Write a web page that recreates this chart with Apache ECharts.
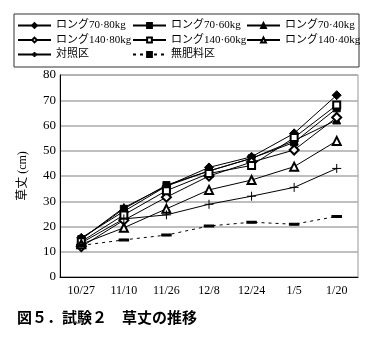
<!DOCTYPE html>
<html lang="ja">
<head>
<meta charset="utf-8">
<title>草丈の推移</title>
<script src="https://cdn.jsdelivr.net/npm/echarts@6/dist/echarts.min.js"></script>
<style>
  html, body { margin: 0; padding: 0; background: #fff; }
  #main { width: 379px; height: 352px; }
</style>
</head>
<body>
<div id="main"></div>
<script>
var categories = ['10/27', '11/10', '11/26', '12/8', '12/24', '1/5', '1/20'];
var yTicks = [0, 10, 20, 30, 40, 50, 60, 70, 80];

var long70_80 = [15.5, 26, 36, 43.4, 47.6, 56.9, 72];
var long70_60 = [15, 27, 36.4, 42, 47, 53.3, 66.8];
var long70_40 = [15, 27.5, 36, 42, 47, 54, 62.2];
var long140_80 = [12, 22.5, 31.6, 40, 45.5, 50.3, 63.2];
var long140_60 = [14, 24.6, 34.2, 41, 44.2, 55.2, 68.1];
var long140_40 = [13, 19.5, 27, 34.5, 38.4, 43.7, 53.9];
var control = [13.5, 23, 24.6, 28.8, 32, 35.5, 43];
var noFert = [12.5, 14.7, 16.6, 20.2, 21.7, 20.9, 24];

var serif = "'Liberation Serif', 'Noto Sans CJK JP', serif";
var plus = 'path://M0,5L10,5M5,0L5,10';

function mkSeries(name, data, symbol, size, dashed) {
    return {
        name: name,
        type: 'line',
        data: data,
        symbol: symbol,
        symbolSize: size,
        showAllSymbol: true,
        lineStyle: { color: '#000', width: 1, type: dashed ? [3, 4] : 'solid' },
        itemStyle: { color: '#000', borderColor: '#000', borderWidth: 1 },
        emphasis: { disabled: true }
    };
}

function mkLegend(left, names) {
    return {
        orient: 'vertical',
        left: left,
        top: 20,
        padding: 0,
        itemWidth: 33,
        itemHeight: 6,
        itemGap: 3.5,
        textStyle: { fontFamily: serif, fontSize: 11, color: '#000', lineHeight: 11 },
        data: names
    };
}

var myChart = echarts.init(document.getElementById('main'));
var option = {
    backgroundColor: '#fff',
    animation: false,
    graphic: [{
        type: 'rect',
        shape: { x: 14, y: 14, width: 345, height: 53 },
        style: { fill: 'none', stroke: '#333', lineWidth: 1 }
    }, {
        type: 'text',
        left: 17,
        top: 310,
        style: {
            text: '図５．試験２　草丈の推移',
            font: "bold 15px 'Noto Sans CJK JP'",
            fill: '#000'
        }
    }],
    legend: [
        mkLegend(17, ['ロング70·80kg', 'ロング140·80kg', '対照区']),
        mkLegend(132, ['ロング70·60kg', 'ロング140·60kg', '無肥料区']),
        mkLegend(246, ['ロング70·40kg', 'ロング140·40kg'])
    ],
    grid: {
        left: 60, right: 21, top: 75, bottom: 75,
        show: true, borderColor: '#999', borderWidth: 1
    },
    xAxis: {
        type: 'category',
        data: categories,
        axisLine: { lineStyle: { color: '#000', width: 1 } },
        axisTick: { inside: true, length: 3, lineStyle: { color: '#000' } },
        axisLabel: { fontFamily: serif, fontSize: 12, color: '#000', margin: 8 }
    },
    yAxis: {
        type: 'value',
        min: 0, max: 80, interval: 10,
        name: '草丈 (cm)',
        nameLocation: 'middle',
        nameGap: 31,
        nameRotate: 90,
        nameTextStyle: { fontFamily: serif, fontSize: 12, color: '#000' },
        axisLine: { show: true, lineStyle: { color: '#000', width: 1 } },
        axisTick: { show: false },
        axisLabel: {
            fontFamily: serif, fontSize: 13, color: '#000', margin: 4,
            formatter: function (v) { return yTicks.indexOf(v) >= 0 ? String(v) : ''; }
        },
        splitLine: { lineStyle: { color: '#aaa', width: 1.5 } }
    },
    series: [
        mkSeries('ロング70·80kg', long70_80, 'diamond', 9),
        mkSeries('ロング70·60kg', long70_60, 'rect', 7),
        mkSeries('ロング70·40kg', long70_40, 'triangle', 8),
        mkSeries('ロング140·80kg', long140_80, 'emptyDiamond', 9),
        mkSeries('ロング140·60kg', long140_60, 'emptyRect', 7),
        mkSeries('ロング140·40kg', long140_40, 'emptyTriangle', 8),
        mkSeries('対照区', control, plus, 9),
        mkSeries('無肥料区', noFert, 'rect', [7, 2], true)
    ]
};
myChart.setOption(option);
</script>
</body>
</html>
